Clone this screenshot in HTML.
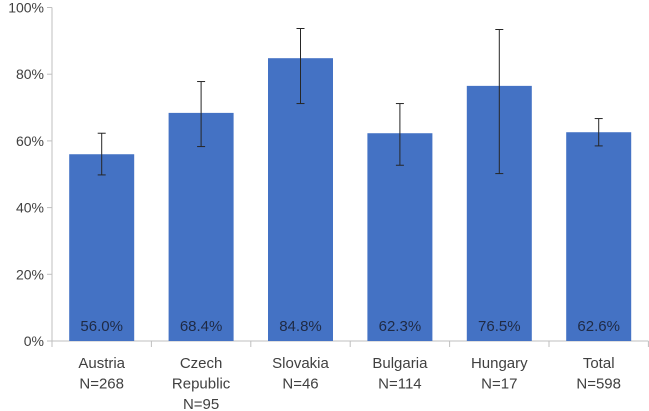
<!DOCTYPE html>
<html><head><meta charset="utf-8"><style>
html,body{margin:0;padding:0;background:#fff;}
svg{display:block;font-family:"Liberation Sans",Calibri,sans-serif;}
</style></head><body>
<svg id="chart" width="649" height="411" viewBox="0 0 649 411"></svg>
<script>
const categories = [["Austria","N=268"],["Czech","Republic","N=95"],["Slovakia","N=46"],["Bulgaria","N=114"],["Hungary","N=17"],["Total","N=598"]];
const values = [56.0, 68.4, 84.8, 62.3, 76.5, 62.6];
const errLow = [49.8, 58.3, 71.2, 52.7, 50.2, 58.5];
const errHigh = [62.3, 77.8, 93.7, 71.2, 93.4, 66.7];
const yTicks = [0, 20, 40, 60, 80, 100];

const svg = document.getElementById('chart');
const NS = 'http://www.w3.org/2000/svg';
const x0 = 52, catW = 99.4, y0 = 341, yTop = 7.5, barW = 65;
const y = v => y0 - (y0 - yTop) * v / 100;
const xc = i => x0 + catW * (i + 0.5);
function mk(tag, attrs, parent) {
  const e = document.createElementNS(NS, tag);
  for (const k in attrs) e.setAttribute(k, attrs[k]);
  (parent || svg).appendChild(e);
  return e;
}
const ya = mk('line', {x1: x0, y1: yTop, x2: x0, y2: y0, stroke: '#bfbfbf', 'stroke-width': 1});


yTicks.forEach(t => {
  const tk = mk('line', {x1: x0 - 5, y1: y(t), x2: x0, y2: y(t), stroke: '#bfbfbf'});
  
  
  const tx = mk('text', {x: x0 - 8, y: y(t) + 5, 'text-anchor': 'end', 'font-size': 14, fill: '#404040'});
  tx.textContent = t + '%';
  
  
});
const xa = mk('line', {x1: x0, y1: y0, x2: x0 + catW * 6, y2: y0, stroke: '#bfbfbf'});


for (let i = 0; i <= 6; i++) {
  const tk = mk('line', {x1: x0 + catW * i, y1: y0, x2: x0 + catW * i, y2: y0 + 6, stroke: '#bfbfbf'});
  
  
}
values.forEach((v, i) => {
  const b = mk('rect', {x: xc(i) - barW / 2, y: y(v), width: barW, height: y0 - y(v), fill: '#4472c4'});
  
  
  const g = mk('g', {stroke: '#262626', 'stroke-width': 1});
  
  
  mk('line', {x1: xc(i), y1: y(errLow[i]), x2: xc(i), y2: y(errHigh[i])}, g);
  mk('line', {x1: xc(i) - 4, y1: y(errLow[i]), x2: xc(i) + 4, y2: y(errLow[i])}, g);
  mk('line', {x1: xc(i) - 4, y1: y(errHigh[i]), x2: xc(i) + 4, y2: y(errHigh[i])}, g);
  const vl = mk('text', {x: xc(i), y: 331, 'text-anchor': 'middle', 'font-size': 15, fill: '#1f2a44'});
  vl.textContent = v.toFixed(1) + '%';
  
  
  categories[i].forEach((line, j) => {
    const cl = mk('text', {x: xc(i), y: 368 + j * 20.5, 'text-anchor': 'middle', 'font-size': 15, fill: '#404040'});
    cl.textContent = line;
    
    
  });
});
</script>
</body></html>
